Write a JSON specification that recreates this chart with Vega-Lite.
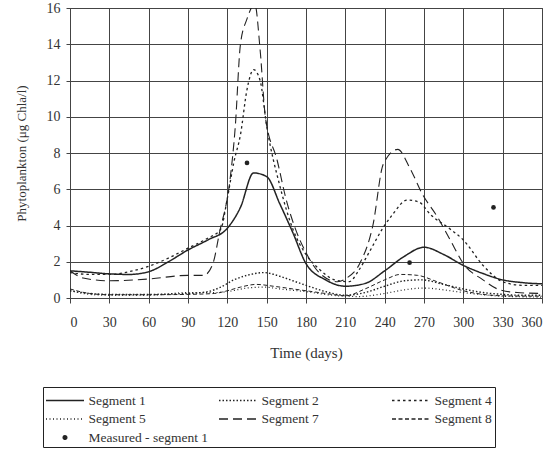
{
  "$schema": "https://vega.github.io/schema/vega-lite/v6.json",
  "width": 472,
  "height": 290,
  "autosize": {"type": "none"},
  "padding": {"left": 70, "top": 8, "right": 15, "bottom": 163},
  "background": "white",
  "config": {
    "font": "Liberation Serif",
    "view": {"stroke": "#444", "strokeWidth": 1},
    "axis": {
      "labelFont": "Liberation Serif",
      "titleFont": "Liberation Serif",
      "labelFontSize": 14,
      "titleFontSize": 13,
      "labelColor": "#333",
      "titleColor": "#333",
      "titleFontWeight": "normal",
      "gridColor": "#444",
      "gridOpacity": 1,
      "gridWidth": 1,
      "domainColor": "#444",
      "tickColor": "#444",
      "labelOverlap": false
    },
    "legend": {
      "labelFont": "Liberation Serif",
      "labelFontSize": 13.5,
      "labelColor": "#333"
    }
  },
  "datasets": {
    "sim": [
      {"s": "Segment 1", "d": 0, "v": 1.5}, {"s": "Segment 1", "d": 15, "v": 1.42}, {"s": "Segment 1", "d": 30, "v": 1.33}, {"s": "Segment 1", "d": 45, "v": 1.3}, {"s": "Segment 1", "d": 60, "v": 1.45}, {"s": "Segment 1", "d": 75, "v": 2.0}, {"s": "Segment 1", "d": 90, "v": 2.65}, {"s": "Segment 1", "d": 105, "v": 3.2}, {"s": "Segment 1", "d": 120, "v": 3.85}, {"s": "Segment 1", "d": 130, "v": 5.0}, {"s": "Segment 1", "d": 140, "v": 6.9}, {"s": "Segment 1", "d": 150, "v": 6.7}, {"s": "Segment 1", "d": 160, "v": 5.2}, {"s": "Segment 1", "d": 170, "v": 3.6}, {"s": "Segment 1", "d": 180, "v": 1.9}, {"s": "Segment 1", "d": 195, "v": 1.0}, {"s": "Segment 1", "d": 210, "v": 0.65}, {"s": "Segment 1", "d": 225, "v": 0.8}, {"s": "Segment 1", "d": 240, "v": 1.5}, {"s": "Segment 1", "d": 255, "v": 2.3}, {"s": "Segment 1", "d": 270, "v": 2.8}, {"s": "Segment 1", "d": 285, "v": 2.4}, {"s": "Segment 1", "d": 300, "v": 1.8}, {"s": "Segment 1", "d": 315, "v": 1.35}, {"s": "Segment 1", "d": 330, "v": 1.0}, {"s": "Segment 1", "d": 345, "v": 0.85}, {"s": "Segment 1", "d": 360, "v": 0.78},

      {"s": "Segment 2", "d": 0, "v": 0.4}, {"s": "Segment 2", "d": 15, "v": 0.25}, {"s": "Segment 2", "d": 30, "v": 0.2}, {"s": "Segment 2", "d": 60, "v": 0.2}, {"s": "Segment 2", "d": 90, "v": 0.25}, {"s": "Segment 2", "d": 105, "v": 0.35}, {"s": "Segment 2", "d": 115, "v": 0.6}, {"s": "Segment 2", "d": 125, "v": 1.0}, {"s": "Segment 2", "d": 135, "v": 1.25}, {"s": "Segment 2", "d": 148, "v": 1.4}, {"s": "Segment 2", "d": 160, "v": 1.2}, {"s": "Segment 2", "d": 170, "v": 0.95}, {"s": "Segment 2", "d": 180, "v": 0.7}, {"s": "Segment 2", "d": 195, "v": 0.35}, {"s": "Segment 2", "d": 210, "v": 0.15}, {"s": "Segment 2", "d": 225, "v": 0.3}, {"s": "Segment 2", "d": 240, "v": 0.65}, {"s": "Segment 2", "d": 255, "v": 0.95}, {"s": "Segment 2", "d": 268, "v": 1.0}, {"s": "Segment 2", "d": 285, "v": 0.75}, {"s": "Segment 2", "d": 300, "v": 0.5}, {"s": "Segment 2", "d": 315, "v": 0.3}, {"s": "Segment 2", "d": 330, "v": 0.2}, {"s": "Segment 2", "d": 345, "v": 0.15}, {"s": "Segment 2", "d": 360, "v": 0.15},

      {"s": "Segment 4", "d": 0, "v": 1.4}, {"s": "Segment 4", "d": 15, "v": 1.3}, {"s": "Segment 4", "d": 30, "v": 1.3}, {"s": "Segment 4", "d": 45, "v": 1.45}, {"s": "Segment 4", "d": 60, "v": 1.75}, {"s": "Segment 4", "d": 75, "v": 2.2}, {"s": "Segment 4", "d": 90, "v": 2.75}, {"s": "Segment 4", "d": 105, "v": 3.3}, {"s": "Segment 4", "d": 115, "v": 3.8}, {"s": "Segment 4", "d": 120, "v": 5.5}, {"s": "Segment 4", "d": 125, "v": 7.5}, {"s": "Segment 4", "d": 130, "v": 9.0}, {"s": "Segment 4", "d": 135, "v": 11.5}, {"s": "Segment 4", "d": 140, "v": 12.6}, {"s": "Segment 4", "d": 145, "v": 12.0}, {"s": "Segment 4", "d": 150, "v": 9.5}, {"s": "Segment 4", "d": 160, "v": 6.2}, {"s": "Segment 4", "d": 170, "v": 3.8}, {"s": "Segment 4", "d": 180, "v": 2.4}, {"s": "Segment 4", "d": 190, "v": 1.6}, {"s": "Segment 4", "d": 202, "v": 1.0}, {"s": "Segment 4", "d": 213, "v": 0.9}, {"s": "Segment 4", "d": 220, "v": 1.5}, {"s": "Segment 4", "d": 228, "v": 2.5}, {"s": "Segment 4", "d": 239, "v": 3.9}, {"s": "Segment 4", "d": 246, "v": 4.6}, {"s": "Segment 4", "d": 257, "v": 5.4}, {"s": "Segment 4", "d": 266, "v": 5.3}, {"s": "Segment 4", "d": 275, "v": 4.6}, {"s": "Segment 4", "d": 290, "v": 3.8}, {"s": "Segment 4", "d": 300, "v": 3.2}, {"s": "Segment 4", "d": 315, "v": 1.8}, {"s": "Segment 4", "d": 330, "v": 0.9}, {"s": "Segment 4", "d": 345, "v": 0.7}, {"s": "Segment 4", "d": 360, "v": 0.7},

      {"s": "Segment 5", "d": 0, "v": 0.4}, {"s": "Segment 5", "d": 15, "v": 0.2}, {"s": "Segment 5", "d": 30, "v": 0.15}, {"s": "Segment 5", "d": 60, "v": 0.15}, {"s": "Segment 5", "d": 90, "v": 0.3}, {"s": "Segment 5", "d": 110, "v": 0.3}, {"s": "Segment 5", "d": 120, "v": 0.35}, {"s": "Segment 5", "d": 135, "v": 0.55}, {"s": "Segment 5", "d": 148, "v": 0.6}, {"s": "Segment 5", "d": 160, "v": 0.5}, {"s": "Segment 5", "d": 180, "v": 0.35}, {"s": "Segment 5", "d": 200, "v": 0.15}, {"s": "Segment 5", "d": 220, "v": 0.08}, {"s": "Segment 5", "d": 240, "v": 0.25}, {"s": "Segment 5", "d": 255, "v": 0.45}, {"s": "Segment 5", "d": 270, "v": 0.55}, {"s": "Segment 5", "d": 285, "v": 0.45}, {"s": "Segment 5", "d": 300, "v": 0.3}, {"s": "Segment 5", "d": 330, "v": 0.1}, {"s": "Segment 5", "d": 360, "v": 0.05},

      {"s": "Segment 7", "d": 0, "v": 1.5}, {"s": "Segment 7", "d": 10, "v": 1.1}, {"s": "Segment 7", "d": 30, "v": 0.95}, {"s": "Segment 7", "d": 60, "v": 1.05}, {"s": "Segment 7", "d": 90, "v": 1.25}, {"s": "Segment 7", "d": 102, "v": 1.25}, {"s": "Segment 7", "d": 109, "v": 1.9}, {"s": "Segment 7", "d": 114, "v": 3.6}, {"s": "Segment 7", "d": 122, "v": 6.5}, {"s": "Segment 7", "d": 126, "v": 9.4}, {"s": "Segment 7", "d": 130, "v": 14.0}, {"s": "Segment 7", "d": 135, "v": 15.4}, {"s": "Segment 7", "d": 141, "v": 16.2}, {"s": "Segment 7", "d": 145, "v": 13.7}, {"s": "Segment 7", "d": 149, "v": 10.0}, {"s": "Segment 7", "d": 158, "v": 7.6}, {"s": "Segment 7", "d": 165, "v": 5.4}, {"s": "Segment 7", "d": 172, "v": 3.8}, {"s": "Segment 7", "d": 180, "v": 2.5}, {"s": "Segment 7", "d": 190, "v": 1.4}, {"s": "Segment 7", "d": 204, "v": 0.9}, {"s": "Segment 7", "d": 211, "v": 1.1}, {"s": "Segment 7", "d": 221, "v": 1.9}, {"s": "Segment 7", "d": 231, "v": 4.0}, {"s": "Segment 7", "d": 239, "v": 7.4}, {"s": "Segment 7", "d": 250, "v": 8.2}, {"s": "Segment 7", "d": 259, "v": 7.2}, {"s": "Segment 7", "d": 269, "v": 5.7}, {"s": "Segment 7", "d": 280, "v": 4.5}, {"s": "Segment 7", "d": 290, "v": 3.2}, {"s": "Segment 7", "d": 300, "v": 1.9}, {"s": "Segment 7", "d": 315, "v": 1.0}, {"s": "Segment 7", "d": 326, "v": 0.5}, {"s": "Segment 7", "d": 341, "v": 0.3}, {"s": "Segment 7", "d": 360, "v": 0.25},

      {"s": "Segment 8", "d": 0, "v": 0.5}, {"s": "Segment 8", "d": 15, "v": 0.25}, {"s": "Segment 8", "d": 30, "v": 0.18}, {"s": "Segment 8", "d": 60, "v": 0.18}, {"s": "Segment 8", "d": 90, "v": 0.2}, {"s": "Segment 8", "d": 110, "v": 0.25}, {"s": "Segment 8", "d": 120, "v": 0.4}, {"s": "Segment 8", "d": 130, "v": 0.6}, {"s": "Segment 8", "d": 142, "v": 0.75}, {"s": "Segment 8", "d": 155, "v": 0.65}, {"s": "Segment 8", "d": 170, "v": 0.5}, {"s": "Segment 8", "d": 185, "v": 0.35}, {"s": "Segment 8", "d": 200, "v": 0.2}, {"s": "Segment 8", "d": 210, "v": 0.12}, {"s": "Segment 8", "d": 225, "v": 0.5}, {"s": "Segment 8", "d": 240, "v": 1.0}, {"s": "Segment 8", "d": 252, "v": 1.3}, {"s": "Segment 8", "d": 265, "v": 1.25}, {"s": "Segment 8", "d": 280, "v": 0.9}, {"s": "Segment 8", "d": 300, "v": 0.4}, {"s": "Segment 8", "d": 315, "v": 0.2}, {"s": "Segment 8", "d": 330, "v": 0.12}, {"s": "Segment 8", "d": 360, "v": 0.1}
    ],
    "measured": [
      {"d": 135, "v": 7.45},
      {"d": 259, "v": 1.95},
      {"d": 323, "v": 5.0}
    ]
  },
  "layer": [
    {
      "data": {"name": "sim"},
      "mark": {"type": "line", "interpolate": "monotone", "color": "#222", "clip": true},
      "encoding": {
        "x": {
          "field": "d", "type": "quantitative",
          "scale": {"domain": [0, 360], "nice": false},
          "axis": {"values": [0,30,60,90,120,150,180,210,240,270,300,330,360], "tickCount": 13, "title": "Time (days)", "titleFontSize": 15, "tickSize": 5, "labelPadding": 12, "titlePadding": 16, "grid": true}
        },
        "y": {
          "field": "v", "type": "quantitative",
          "scale": {"domain": [0, 16], "nice": false},
          "axis": {"values": [0,2,4,6,8,10,12,14,16], "tickCount": 9, "title": "Phytoplankton (μg Chla/l)", "tickSize": 4, "labelPadding": 6, "titlePadding": 18, "grid": true}
        },
        "detail": {"field": "s"},
        "strokeDash": {
          "field": "s", "type": "nominal",
          "scale": {
            "domain": ["Segment 1", "Segment 2", "Segment 4", "Segment 5", "Segment 7", "Segment 8", "Measured - segment 1"],
            "range": [[1, 0], [1.5, 2], [2.5, 3], [1, 2.5], [9, 5], [4, 2.5], [1, 0]]
          },
          "legend": {
            "title": null,
            "orient": "none",
            "direction": "horizontal",
            "legendX": -27,
            "legendY": 379,
            "columns": 3,
            "gridAlign": "all",
            "columnPadding": 7,
            "rowPadding": 1.5,
            "padding": 3,
            "strokeColor": "#222",
            "symbolSize": 361,
            "symbolType": "M-2,0H2",
            "symbolStrokeWidth": 1.3,
            "symbolStrokeColor": "#222",
            "symbolOffset": 8.5,
            "labelOffset": 13,
            "labelLimit": 250,
            "encode": {
              "symbols": {
                "update": {
                  "stroke": {"value": "#222"},
                  "shape": {"signal": "datum.value === 'Measured - segment 1' ? 'circle' : 'M-2,0H2'"},
                  "size": {"signal": "datum.value === 'Measured - segment 1' ? 14 : 361"},
                  "fill": {"signal": "datum.value === 'Measured - segment 1' ? '#222' : 'transparent'"}
                }
              }
            }
          }
        },
        "strokeWidth": {
          "field": "s", "type": "nominal",
          "scale": {
            "domain": ["Segment 1", "Segment 2", "Segment 4", "Segment 5", "Segment 7", "Segment 8"],
            "range": [1.5, 1, 2, 1, 1.7, 1]
          },
          "legend": null
        }
      }
    },
    {
      "data": {"name": "measured"},
      "mark": {"type": "point", "filled": true, "color": "#222", "size": 22, "opacity": 1},
      "encoding": {
        "x": {"field": "d", "type": "quantitative"},
        "y": {"field": "v", "type": "quantitative"}
      }
    }
  ]
}
